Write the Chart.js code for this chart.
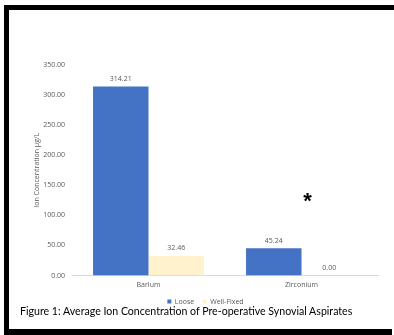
<!DOCTYPE html>
<html>
<head>
<meta charset="utf-8">
<script src="https://cdn.jsdelivr.net/npm/chart.js@4"></script>
<style>
  html, body { margin: 0; padding: 0; background: #fff; }
  body { width: 394px; height: 335px; position: relative; overflow: hidden; }
  #wrap { position: absolute; left: 0; top: 0; width: 394px; height: 335px; }
  .frame-top { position: absolute; left: 4px; top: 5px; width: 390px; height: 5px; background: #000; }
  .frame-left { position: absolute; left: 4px; top: 5px; width: 5px; height: 330px; background: #000; }
  .frame-bottom { position: absolute; left: 4px; top: 329px; width: 388px; height: 6px; background: #000; }
  #caption { position: absolute; left: 20px; top: 305px; font-family: Lato, sans-serif; font-size: 10.6px; color: #000; white-space: nowrap; }
</style>
</head>
<body>
<div id="wrap"><canvas id="c" width="394" height="335"></canvas></div>
<div class="frame-top"></div>
<div class="frame-left"></div>
<div class="frame-bottom"></div>
<div id="caption">Figure 1: Average Ion Concentration of Pre-operative Synovial Aspirates</div>
<script>
// Ion species measured
const categories = ["Barium", "Zirconium"];
// Average concentrations (µg/L)
const looseValues = [314.21, 45.24];
const wellFixedValues = [32.46, 0.00];
const seriesNames = ["Loose", "Well-Fixed"];
const axisTitle = "Ion Concentration µg/L";
// Significance marker placed over Zirconium
const markerCategory = 1;
const markerValue = 130;
const markerText = "*";

const labelColor = "#595959";
const smallFont = { family: "'Open Sans', sans-serif", size: 7 };

// Writes each bar's value just above it
const valueLabels = {
  id: "valueLabels",
  afterDatasetsDraw(chart) {
    const ctx = chart.ctx;
    ctx.save();
    ctx.font = "7px 'Open Sans', sans-serif";
    ctx.fillStyle = labelColor;
    ctx.textAlign = "center";
    ctx.textBaseline = "bottom";
    chart.data.datasets.forEach((ds, i) => {
      const meta = chart.getDatasetMeta(i);
      meta.data.forEach((bar, j) => {
        ctx.fillText(ds.data[j].toFixed(2), bar.x, bar.y - 4);
      });
    });
    ctx.restore();
  }
};

// Draws the significance asterisk
const marker = {
  id: "marker",
  afterDatasetsDraw(chart) {
    const ctx = chart.ctx;
    const x = chart.scales.x.getPixelForValue(markerCategory) + 6;
    const y = chart.scales.y.getPixelForValue(markerValue);
    ctx.save();
    ctx.font = "bold 22px 'Liberation Sans', sans-serif";
    ctx.fillStyle = "#000";
    ctx.textAlign = "center";
    ctx.textBaseline = "middle";
    ctx.fillText(markerText, x, y + 5);
    ctx.restore();
  }
};

new Chart(document.getElementById("c"), {
  type: "bar",
  data: {
    labels: categories,
    datasets: [
      { label: seriesNames[0], data: looseValues, backgroundColor: "#4472C4" },
      { label: seriesNames[1], data: wellFixedValues, backgroundColor: "#FFF2CC" }
    ]
  },
  options: {
    responsive: false,
    animation: false,
    datasets: { bar: { categoryPercentage: 0.725, barPercentage: 1.0 } },
    layout: { padding: { left: 33, right: 16, top: 65, bottom: 20 } },
    plugins: {
      tooltip: { enabled: false },
      legend: {
        position: "bottom",
        labels: {
          boxWidth: 4, boxHeight: 4, padding: 8.5,
          color: labelColor, font: smallFont
        }
      }
    },
    scales: {
      x: {
        grid: { display: false, drawTicks: false },
        border: { color: "#D9D9D9" },
        ticks: { color: labelColor, font: smallFont, padding: 5 },
        afterFit(scale) { scale.height = 14; }
      },
      y: {
        min: 0, max: 350,
        grid: { display: false, drawTicks: false },
        border: { display: false },
        ticks: {
          stepSize: 50, color: labelColor, font: smallFont, padding: 7,
          callback: v => v.toFixed(2)
        },
        title: { display: true, text: axisTitle, color: labelColor, font: smallFont, padding: 0 },
        afterFit(scale) { scale.width = 39; }
      }
    }
  },
  plugins: [valueLabels, marker]
});
</script>
</body>
</html>
